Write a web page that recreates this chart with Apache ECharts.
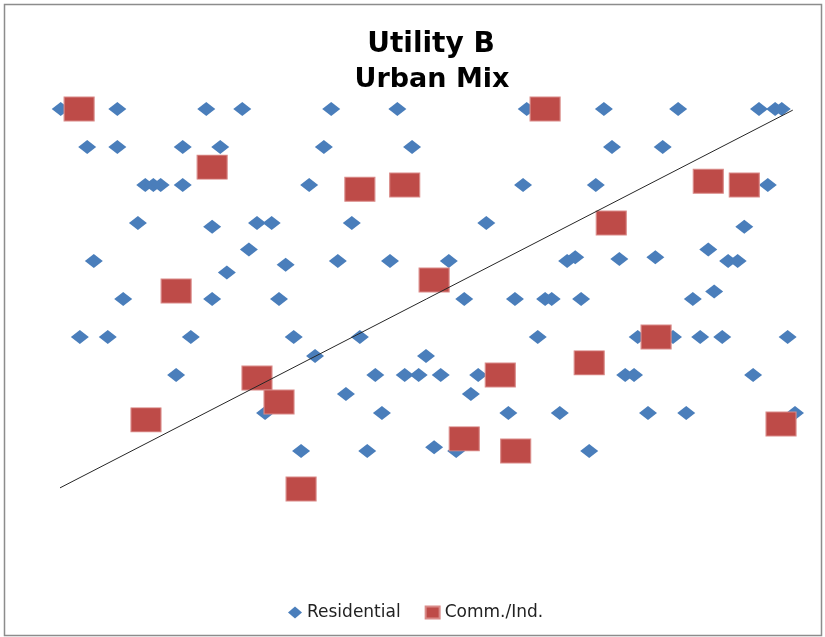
<!DOCTYPE html>
<html>
<head>
<meta charset="utf-8">
<script src="https://cdn.jsdelivr.net/npm/echarts@6/dist/echarts.min.js"></script>
<style>
  html, body { margin: 0; padding: 0; background: #fff; }
  #chart { width: 825px; height: 637px; }
</style>
</head>
<body>
<div id="chart"></div>
<script>
// Residential customers: [x, y]
const residential = [
  [0.1, 10], [7.8, 10], [19.9, 10], [24.8, 10], [36.9, 10], [45.9, 10], [63.5, 10], [74.0, 10], [84.1, 10], [95.1, 10], [97.3, 10], [98.2, 10],
  [3.7, 9], [7.8, 9], [16.7, 9], [21.8, 9], [35.9, 9], [47.9, 9], [75.1, 9], [82.0, 9],
  [11.6, 8], [12.7, 8], [13.7, 8], [16.7, 8], [33.9, 8], [63.0, 8], [72.9, 8], [96.3, 8],
  [10.6, 7], [26.8, 7], [28.8, 7], [39.7, 7], [58.0, 7], [20.7, 6.9], [93.1, 6.9],
  [4.6, 6], [30.7, 5.9], [37.8, 6], [44.9, 6], [52.9, 6], [69.0, 6], [70.1, 6.1], [76.1, 6.05], [81.0, 6.1], [90.9, 6], [92.2, 6],
  [25.7, 6.3], [88.2, 6.3], [22.7, 5.7],
  [8.6, 5], [20.7, 5], [29.8, 5], [55.0, 5], [61.9, 5], [66.0, 5], [66.9, 5], [70.9, 5], [86.1, 5], [89.0, 5.2],
  [2.7, 4], [6.5, 4], [17.8, 4], [31.8, 4], [40.8, 4], [65.0, 4], [78.6, 4], [83.4, 4], [87.1, 4], [90.1, 4], [99.0, 4],
  [34.7, 3.5], [49.8, 3.5],
  [15.8, 3], [42.9, 3], [46.9, 3], [48.8, 3], [51.8, 3], [56.9, 3], [76.9, 3], [78.1, 3], [94.3, 3],
  [38.9, 2.5], [55.9, 2.5],
  [27.9, 2], [43.8, 2], [61.0, 2], [68.0, 2], [80.0, 2], [85.2, 2], [100, 2],
  [32.8, 1], [41.8, 1], [50.9, 1.1], [53.9, 1], [72.0, 1]
];

// Commercial / industrial customers: [x, y]
const commercial = [
  [2.6, 10], [20.7, 8.47], [40.8, 7.89], [46.9, 8], [66.0, 10], [75.0, 7], [88.2, 8.1], [93.1, 8],
  [15.8, 5.21], [50.9, 5.5], [26.8, 2.92], [29.8, 2.29], [11.7, 1.82], [32.8, 0],
  [55.0, 1.32], [62.0, 1], [59.9, 3], [72.0, 3.32], [81.1, 4], [98.1, 1.71]
];

// Linear trend line end points
const trend = [[0, 0.03], [99.7, 9.97]];

const titleLines = ['Utility B', 'Urban Mix'];
const seriesNames = ['Residential', 'Comm./Ind.'];

const chart = echarts.init(document.getElementById('chart'), null, { renderer: 'canvas' });

chart.setOption({
  backgroundColor: '#ffffff',
  animation: false,
  graphic: [
    {
      type: 'rect',
      shape: { x: 4.5, y: 4.5, width: 817, height: 631 },
      style: { fill: 'none', stroke: '#8c8c8c', lineWidth: 1.5 },
      silent: true
    },
    {
      type: 'text', x: 431, y: 45,
      style: { text: titleLines[0], fill: '#000', font: 'bold 28px "DejaVu Sans"', textAlign: 'center', textVerticalAlign: 'middle' }
    },
    {
      type: 'text', x: 432, y: 80,
      style: { text: titleLines[1], fill: '#000', font: 'bold 27px "DejaVu Sans"', textAlign: 'center', textVerticalAlign: 'middle' }
    }
  ],
  legend: {
    data: [
      { name: seriesNames[0], icon: 'diamond' },
      { name: seriesNames[1], icon: 'rect' }
    ],
    left: 283,
    top: 599,
    itemWidth: 14,
    itemHeight: 12,
    itemGap: 24,
    textStyle: { fontFamily: 'DejaVu Sans', fontSize: 17, color: '#222' }
  },
  grid: { left: 60, top: 109, width: 735, height: 380 },
  xAxis: {
    type: 'value', min: 0, max: 100,
    show: false
  },
  yAxis: {
    type: 'value', min: 0, max: 10,
    show: false
  },
  series: [
    {
      name: seriesNames[0],
      type: 'scatter',
      data: residential,
      symbol: 'diamond',
      symbolSize: [18, 14],
      clip: false,
      itemStyle: { color: '#4a7ebb', opacity: 1 }
    },
    {
      name: seriesNames[1],
      type: 'scatter',
      data: commercial,
      symbol: 'rect',
      symbolSize: [30, 24],
      clip: false,
      itemStyle: { color: '#be4b48', borderColor: '#d98a88', borderWidth: 1, opacity: 1 }
    },
    {
      name: 'Trend',
      type: 'line',
      data: trend,
      showSymbol: false,
      symbol: 'none',
      clip: false,
      lineStyle: { color: '#262626', width: 1 },
      z: 5
    }
  ]
});
</script>
</body>
</html>
